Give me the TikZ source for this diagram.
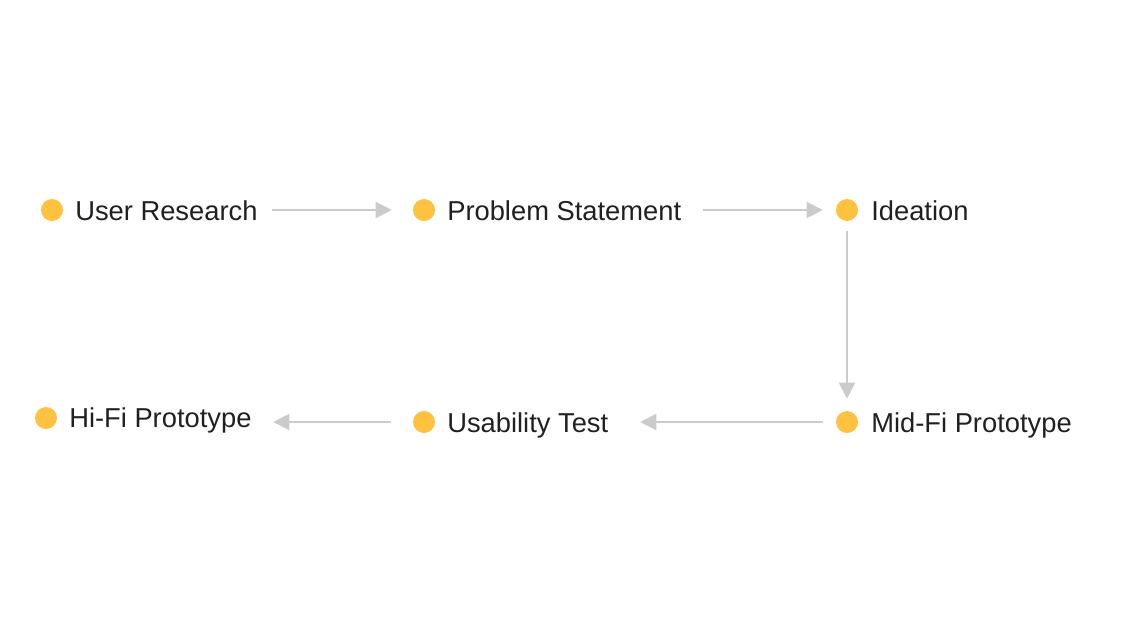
\documentclass[tikz,border=0pt]{standalone}
\usepackage{fontspec}
\setmainfont{Liberation Sans}
\usetikzlibrary{arrows.meta}
\definecolor{dotyellow}{HTML}{FFC240}
\definecolor{flowgray}{HTML}{CBCBCB}
\definecolor{labelink}{HTML}{202020}
\tikzset{
  stagedot/.style={circle,fill=dotyellow,minimum size=16.5pt,inner sep=0pt},
  stagename/.style={anchor=base west,inner sep=0pt,text=labelink,font=\fontsize{20.5}{24}\selectfont},
  flow/.style={draw=flowgray,line width=1.5pt,-{Triangle[length=12pt,width=12pt]}}
}
\begin{document}
\begin{tikzpicture}[x=0.75pt,y=-0.75pt]
          \useasboundingbox (0,0) rectangle (1136,640);
          \node[stagedot] (d1) at (52,210) {};
          \node[stagename] (t1) at (75,220) {User Research};
          \node[stagedot] (d2) at (424,210) {};
          \node[stagename] (t2) at (447,220) {Problem Statement};
          \node[stagedot] (d3) at (847,210) {};
          \node[stagename] (t3) at (871,220) {Ideation};
          \node[stagedot] (d4) at (847,422) {};
          \node[stagename] (t4) at (871,432) {Mid-Fi Prototype};
          \node[stagedot] (d5) at (424,422) {};
          \node[stagename] (t5) at (447,432) {Usability Test};
          \node[stagedot] (d6) at (46,418) {};
          \node[stagename] (t6) at (69,427.5) {Hi-Fi Prototype};
          \draw[flow,shorten <=156.75pt,shorten >=15.75pt] (d1.east) -- (d2.west);
          \draw[flow,shorten <=201pt,shorten >=9.75pt] (d2.east) -- (d3.west);
          \draw[flow,shorten <=7.5pt,shorten >=9pt] (d3.south) -- (d4.north);
          \draw[flow,shorten <=9.75pt,shorten >=153.75pt] (d4.west) -- (d5.east);
          \draw[flow,shorten <=16.5pt,shorten >=162pt] (d5.west) -- (d6.east |- d5);
        \end{tikzpicture}
\end{document}
